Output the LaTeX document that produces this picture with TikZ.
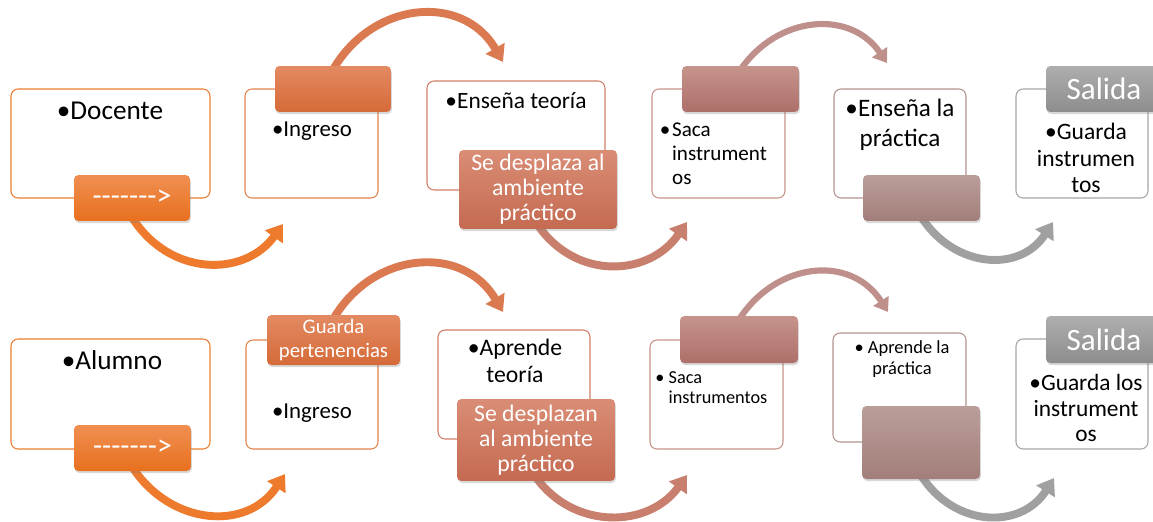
\documentclass[tikz,border=0pt]{standalone}
\usepackage{fontspec}
\setmainfont{Carlito}
\newfontfamily\rawfont{Carlito}[Ligatures=TeXOff]
\usetikzlibrary{arrows.meta}
\usetikzlibrary{shadows}
\usetikzlibrary{calc}
\usetikzlibrary{backgrounds}

\definecolor{s1}{HTML}{ED7D31}\definecolor{u1}{HTML}{F08F52}\definecolor{l1}{HTML}{E8701E}
\definecolor{s2}{HTML}{E5834F}\definecolor{u2}{HTML}{E38A62}\definecolor{l2}{HTML}{D56A38}
\definecolor{s3}{HTML}{D27F68}\definecolor{u3}{HTML}{DA8D75}\definecolor{l3}{HTML}{C46A51}
\definecolor{s4}{HTML}{C7938B}\definecolor{u4}{HTML}{C6948C}\definecolor{l4}{HTML}{AD6F69}
\definecolor{s5}{HTML}{B59390}\definecolor{u5}{HTML}{BA9E9A}\definecolor{l5}{HTML}{A27E7A}
\definecolor{s6}{HTML}{A6A6A6}\definecolor{u6}{HTML}{AEAEAE}\definecolor{l6}{HTML}{8D8D8D}
\definecolor{f1}{HTML}{EE7A2E}\definecolor{f2}{HTML}{DB7A50}\definecolor{f3}{HTML}{C97F6E}
\definecolor{f4}{HTML}{BE8F8B}\definecolor{f5}{HTML}{A0A0A0}

\newcommand{\dashline}{{\rawfont -------\kern0pt>}}

\begin{document}
\begin{tikzpicture}[x=0.02cm,y=-0.02cm,
    main box/.style={draw,fill=white,rounded corners=4pt,line width=0.6pt,minimum height=2.18cm},
    tab box/.style={rounded corners=2.5pt,text=white,align=center,inner sep=1pt,
                    minimum height=0.92cm,
                    drop shadow={opacity=0.3,shadow xshift=0.5pt,shadow yshift=-1.2pt}},
    flow arrow/.style={line width=4.5pt,-{Triangle[length=9pt,width=12pt]}},
    small arrow/.style={line width=3.5pt,-{Triangle[length=7.5pt,width=10pt]}},
    lbl/.style={align=center,inner sep=0pt}]

  \useasboundingbox (0,0) rectangle (1153,521);
  \clip (0,0) rectangle (1153,521);

  % docente
  \node[main box,draw=s1,minimum width=3.98cm] (d1) at (110.5,143.5) {};
  \node[main box,draw=s2,minimum width=2.66cm] (d2) at (311.5,143.5) {};
  \node[main box,draw=s3,minimum width=3.56cm] (d3) at (516,135.5) {};
  \node[main box,draw=s4,minimum width=2.66cm] (d4) at (718.5,143.5) {};
  \node[main box,draw=s5,minimum width=2.64cm] (d5) at (900,143.5) {};
  \node[main box,draw=s6,minimum width=2.64cm] (d6) at (1082,143.5) {};

  \node[tab box,top color=u1,bottom color=l1,minimum width=2.32cm,
        font=\fontsize{17}{20}\selectfont] (dt1) at (132,198) {\dashline};
  \node[tab box,top color=u2,bottom color=l2,minimum width=2.32cm] (dt2) at (333,89) {};
  \node[tab box,top color=u3,bottom color=l3,minimum width=3.16cm,minimum height=1.58cm,
        font=\fontsize{13.5}{14.2}\selectfont] (dt3) at (538,189.5) {Se desplaza al\\ambiente\\práctico};
  \node[tab box,top color=u4,bottom color=l4,minimum width=2.34cm] (dt4) at (740.5,89) {};
  \node[tab box,top color=u5,bottom color=l5,minimum width=2.34cm] (dt5) at (921.5,198) {};
  \node[tab box,top color=u6,bottom color=l6,minimum width=2.32cm,
        font=\fontsize{17.7}{20}\selectfont] (dt6) at (1104,89) {Salida};

  \node[lbl,font=\fontsize{15.5}{18}\selectfont] (dx1) at (110,111) {•Docente};
  \node[lbl,font=\fontsize{13}{15}\selectfont] (dx2) at (312,131) {•Ingreso};
  \node[lbl,font=\fontsize{13.3}{15}\selectfont] (dx3) at (516,101) {•Enseña teoría};
  \node[lbl,align=left,font=\fontsize{12}{13.6}\selectfont] (dx4) at (719.5,154)
       {\llap{•\hspace{1pt}}Saca\\instrument\\os};
  \node[lbl,font=\fontsize{14.3}{17}\selectfont] (dx5) at (900,125) {•Enseña la\\práctica};
  \node[lbl,font=\fontsize{13.4}{15.3}\selectfont] (dx6) at (1086,158) {•Guarda\\instrumen\\tos};

  % alumno
  \node[main box,draw=s1,minimum width=3.98cm,minimum height=2.2cm] (m1) at (110.5,394) {};
  \node[main box,draw=s2,minimum width=2.64cm] (m2) at (312,394.5) {};
  \node[main box,draw=s3,minimum width=3.04cm] (m3) at (514,384.5) {};
  \node[main box,draw=s4,minimum width=2.66cm] (m4) at (716.5,394.5) {};
  \node[main box,draw=s5,minimum width=2.66cm] (m5) at (899.5,387.5) {};
  \node[main box,draw=s6,minimum width=2.64cm,minimum height=2.2cm] (m6) at (1082,394) {};

  \node[tab box,top color=u1,bottom color=l1,minimum width=2.34cm,
        font=\fontsize{17}{20}\selectfont] (mt1) at (132.5,448) {\dashline};
  \node[tab box,top color=u2,bottom color=l2,minimum width=2.66cm,minimum height=1cm,
        font=\fontsize{11.8}{13.6}\selectfont] (mt2) at (333.5,340) {Guarda\\pertenencias};
  \node[tab box,top color=u3,bottom color=l3,minimum width=3.16cm,minimum height=1.64cm,
        font=\fontsize{13.5}{14.2}\selectfont] (mt3) at (536,440) {Se desplazan\\al ambiente\\práctico};
  \node[tab box,top color=u4,bottom color=l4,minimum width=2.36cm,minimum height=0.94cm] (mt4) at (739,339.5) {};
  \node[tab box,top color=u5,bottom color=l5,minimum width=2.36cm,minimum height=1.46cm] (mt5) at (921,442.5) {};
  \node[tab box,top color=u6,bottom color=l6,minimum width=2.32cm,minimum height=0.94cm,
        font=\fontsize{17.7}{20}\selectfont] (mt6) at (1104,339.5) {Salida};

  \node[lbl,font=\fontsize{15.5}{18}\selectfont] (mx1) at (112,360) {•Alumno};
  \node[lbl,font=\fontsize{13}{15}\selectfont] (mx2) at (312,413) {•Ingreso};
  \node[lbl,font=\fontsize{13.5}{15.3}\selectfont] (mx3) at (515,361) {•Aprende\\teoría};
  \node[lbl,align=left,font=\fontsize{10.4}{11.4}\selectfont] (mx4) at (718,388)
       {\llap{•\ }Saca\\instrumentos};
  \node[lbl,font=\fontsize{10.5}{12.4}\selectfont] (mx5) at (902,359) {• Aprende la\\práctica};
  \node[lbl,font=\fontsize{13.3}{14.3}\selectfont] (mx6) at (1086,408) {•Guarda los\\instrument\\os};

  \coordinate (dz1) at (283,224);
  \coordinate (dz2) at (503,62);
  \coordinate (dz3) at (687,222);
  \coordinate (dz4) at (887,63);
  \coordinate (dz5) at (1053,222);
  \coordinate (mz1) at (285,474);
  \coordinate (mz2) at (503,312);
  \coordinate (mz3) at (687,475);
  \coordinate (mz4) at (888,312);
  \coordinate (mz5) at (1054,478);

  \begin{scope}[on background layer]
    \draw[flow arrow,f1] ($(dt1.south)+(0,-4)$) .. controls +(38,60) and +(-38,53) .. (dz1);
    \draw[flow arrow,f2] ($(dt2.north)+(0,4)$) .. controls +(40,-69) and +(-40,-69) .. (dz2);
    \draw[flow arrow,f3] ($(dt3.south)+(0,-4)$) .. controls +(38,55) and +(-38,55) .. (dz3);
    \draw[small arrow,f4] ($(dt4.north)+(0,4)$) .. controls +(37,-54) and +(-37,-54) .. (dz4);
    \draw[flow arrow,f5] ($(dt5.south)+(0,-4)$) .. controls +(33,51) and +(-33,51) .. (dz5);

    \draw[flow arrow,f1] ($(mt1.south)+(0,-4)$) .. controls +(38,58) and +(-38,58) .. (mz1);
    \draw[flow arrow,f2] ($(mt2.north)+(0,4)$) .. controls +(40,-68) and +(-40,-68) .. (mz2);
    \draw[flow arrow,f3] ($(mt3.south)+(0,-4)$) .. controls +(38,53) and +(-38,53) .. (mz3);
    \draw[small arrow,f4] ($(mt4.north)+(0,4)$) .. controls +(37,-58) and +(-37,-58) .. (mz4);
    \draw[flow arrow,f5] ($(mt5.south)+(0,-4)$) .. controls +(33,52) and +(-33,52) .. (mz5);
  \end{scope}
\end{tikzpicture}
\end{document}
